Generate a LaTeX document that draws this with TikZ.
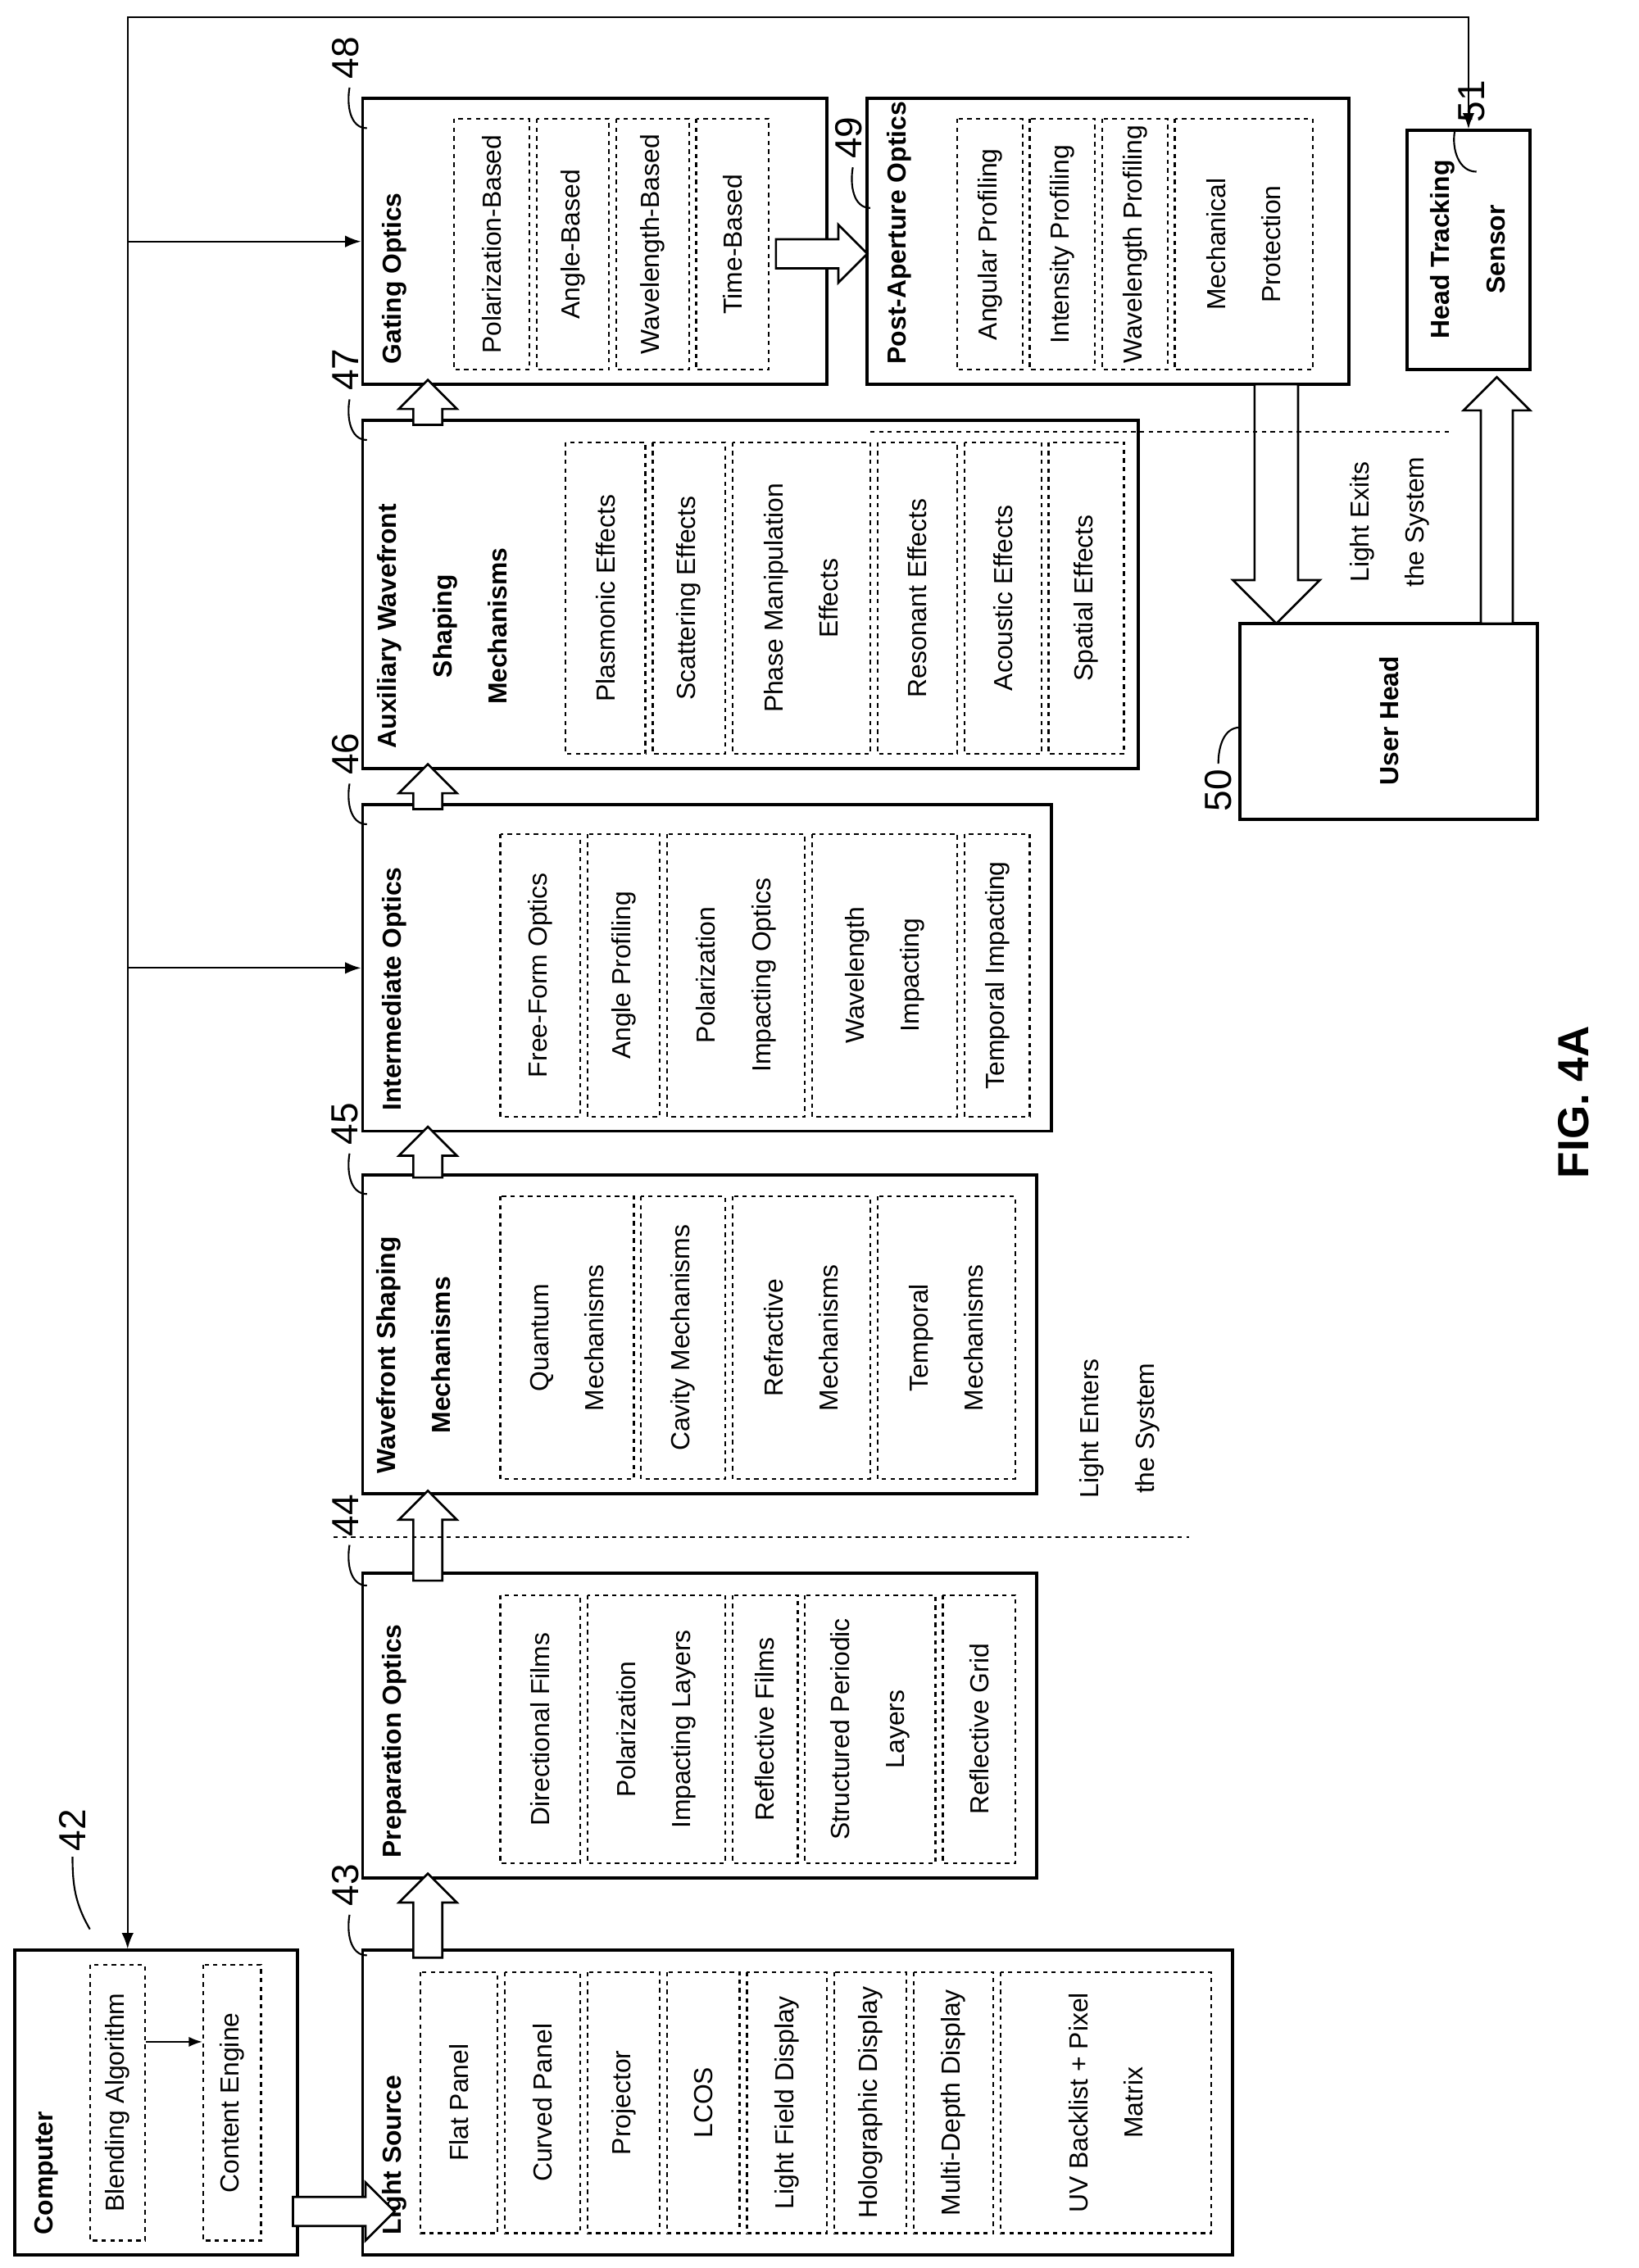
\documentclass[tikz,border=0pt]{standalone}
\usepackage{fontspec}
\setmainfont{Liberation Sans}
\usetikzlibrary{arrows.meta}
\tikzset{>={Latex[scale=1.3]}}
\newcommand\myfs{\fontsize{18}{38}\selectfont}
% box by its corners: name, x1, y1, x2, y2, style, text
\newcommand\bx[7]{\node[#6, minimum width=#5pt-#3pt, minimum height=#4pt-#2pt] (#1) at ({(#2+#4)/2},{(#3+#5)/2}) {#7};}
% hollow block arrow: x, y of tail, direction, length, half body, half head
\newcommand\barr[6]{\draw[line width=1.5pt, fill=white, shift={(#1,#2)}, rotate=#3]
  (0,-#5) -- ({#4-#6},-#5) -- ({#4-#6},-#6) -- (#4,0) -- ({#4-#6},#6) -- ({#4-#6},#5) -- (0,#5) -- cycle;}
\tikzset{
  bigbox/.style={draw, line width=2.2pt, rotate=90, inner sep=0pt},
  dbox/.style={draw, dashed, line width=1.3pt, rotate=90, align=center, inner sep=1pt, font=\myfs},
  ttl/.style={rotate=90, anchor=west, align=left, font=\myfs\bfseries},
  numtag/.style={rotate=90, font=\fontsize{26}{26}\selectfont},
}
\begin{document}
\begin{tikzpicture}[x=1pt, y=-1pt, line width=1.2pt]
\useasboundingbox (0,0) rectangle (1130,1564);
% main blocks
\bx{cmp}{10}{1345}{205}{1555}{bigbox}{}
\bx{ls}{250}{1345}{850}{1555}{bigbox}{}
\bx{prep}{250}{1085}{715}{1295}{bigbox}{}
\bx{wav}{250}{810}{715}{1030}{bigbox}{}
\bx{int}{250}{555}{725}{780}{bigbox}{}
\bx{aux}{250}{290}{785}{530}{bigbox}{}
\bx{gat}{250}{68}{570}{265}{bigbox}{}
\bx{post}{598}{68}{930}{265}{bigbox}{}
\bx{hts}{970}{90}{1055}{255}{bigbox}{}
\bx{uh}{855}{430}{1060}{565}{bigbox}{}
% titles
\node[ttl] at (32,1545) {Computer};
\node[ttl] at (272,1545) {Light Source};
\node[ttl] at (272,1285) {Preparation Optics};
\node[ttl, align=center] at (285,1020) {Wavefront Shaping\\Mechanisms};
\node[ttl] at (272,770) {Intermediate Optics};
\node[ttl, align=center] at (305,520) {Auxiliary Wavefront\\Shaping\\Mechanisms};
\node[ttl] at (272,255) {Gating Optics};
\node[ttl] at (620,255) {Post-Aperture Optics};
\node[rotate=90, align=center, font=\myfs\bfseries] at (1012,172) {Head Tracking\\Sensor};
\node[rotate=90, font=\myfs\bfseries] at (958,497) {User Head};
% dashed items
\bx{bl}{62}{1355}{100}{1545}{dbox}{Blending Algorithm}
\bx{ce}{140}{1355}{180}{1545}{dbox}{Content Engine}
\foreach \xa/\xb/\tx [count=\k] in {290/343/Flat Panel, 348/400/Curved Panel, 405/455/Projector,
    460/510/LCOS, 515/570/Light Field Display, 575/625/Holographic Display,
    630/685/Multi-Depth Display, 690/835/{UV Backlist + Pixel\\Matrix}}
  {\bx{ls-\k}{\xa}{1360}{\xb}{1540}{dbox}{\tx}}
\foreach \xa/\xb/\tx [count=\k] in {345/400/Directional Films, 405/500/{Polarization\\Impacting Layers},
    505/550/Reflective Films, 555/645/{Structured Periodic\\Layers}, 650/700/Reflective Grid}
  {\bx{prep-\k}{\xa}{1100}{\xb}{1285}{dbox}{\tx}}
\foreach \xa/\xb/\tx [count=\k] in {345/437/{Quantum\\Mechanisms}, 442/500/Cavity Mechanisms,
    505/600/{Refractive\\Mechanisms}, 605/700/{Temporal\\Mechanisms}}
  {\bx{wav-\k}{\xa}{825}{\xb}{1020}{dbox}{\tx}}
\foreach \xa/\xb/\tx [count=\k] in {345/400/Free-Form Optics, 405/455/Angle Profiling,
    460/555/{Polarization\\Impacting Optics}, 560/660/{Wavelength\\Impacting}, 665/710/Temporal Impacting}
  {\bx{int-\k}{\xa}{575}{\xb}{770}{dbox}{\tx}}
\foreach \xa/\xb/\tx [count=\k] in {390/445/Plasmonic Effects, 450/500/Scattering Effects,
    505/600/{Phase Manipulation\\Effects}, 605/660/Resonant Effects, 665/718/Acoustic Effects, 723/775/Spatial Effects}
  {\bx{aux-\k}{\xa}{305}{\xb}{520}{dbox}{\tx}}
\foreach \xa/\xb/\tx [count=\k] in {313/365/Polarization-Based, 370/420/Angle-Based,
    425/475/Wavelength-Based, 480/530/Time-Based}
  {\bx{gat-\k}{\xa}{82}{\xb}{255}{dbox}{\tx}}
\foreach \xa/\xb/\tx [count=\k] in {660/705/Angular Profiling, 710/755/Intensity Profiling,
    760/805/Wavelength Profiling, 810/905/{Mechanical\\Protection}}
  {\bx{post-\k}{\xa}{82}{\xb}{255}{dbox}{\tx}}
% block arrows
\barr{295}{1350}{90}{58}{10}{20}
\barr{295}{1090}{90}{62}{10}{20}
\barr{295}{812}{90}{35}{10}{20}
\barr{295}{558}{90}{31}{10}{20}
\barr{295}{293}{90}{31}{10}{20}
\barr{202}{1525}{0}{70}{10}{20}
\barr{535}{175}{0}{63}{10}{20}
\barr{880}{265}{-90}{165}{15}{30}
\barr{1032}{430}{90}{170}{11}{23}
% system boundaries
\draw[dashed] (230,1060) -- (820,1060);
\draw[dashed] (600,298) -- (1000,298);
\node[rotate=90, align=center, font=\myfs] at (772,985) {Light Enters\\the System};
\node[rotate=90, align=center, font=\myfs] at (958,360) {Light Exits\\the System};
% control bus
\coordinate (bus) at (88,12);
\coordinate (ca) at (0,1408);
\draw[<->] (bus |- cmp.east) -- (bus) -- (bus -| hts.east) -- (hts.east);
\draw[->] (bus |- gat.north) -- (gat.north);
\draw[->] (bus |- int.north) -- (int.north);
\draw[->, line width=0.9pt] (bl.south |- ca) -- (ce.north |- ca);
% reference numerals
\node[numtag] (t42) at (50,1262) {42};
\draw (t42.west) to[out=-90,in=120] ++(12,50);
\node[numtag] (t43) at (238,1300) {43};
\draw (t43.west) ++(3,2) to[out=-100,in=180] ++(12,28);
\node[numtag] (t44) at (238,1045) {44};
\draw (t44.west) ++(3,2) to[out=-100,in=180] ++(12,28);
\node[numtag] (t45) at (238,775) {45};
\draw (t45.west) ++(3,2) to[out=-100,in=180] ++(12,28);
\node[numtag] (t46) at (238,520) {46};
\draw (t46.west) ++(3,2) to[out=-100,in=180] ++(12,28);
\node[numtag] (t47) at (238,255) {47};
\draw (t47.west) ++(3,2) to[out=-100,in=180] ++(12,28);
\node[numtag] (t48) at (238,40) {48};
\draw (t48.west) ++(3,2) to[out=-100,in=180] ++(12,28);
\node[numtag] (t49) at (585,95) {49};
\draw (t49.west) ++(3,2) to[out=-100,in=180] ++(12,28);
\node[numtag] (t51) at (1015,70) {51};
\draw (t51.west) ++(-12,2) to[out=-100,in=180] ++(15,28);
\node[numtag] (t50) at (840,545) {50};
\draw (t50.east) to[out=90,in=180] ++(15,-25);
\node[rotate=90, font=\fontsize{30}{30}\selectfont\bfseries] (fig) at (1085,760) {FIG. 4A};
\end{tikzpicture}
\end{document}
